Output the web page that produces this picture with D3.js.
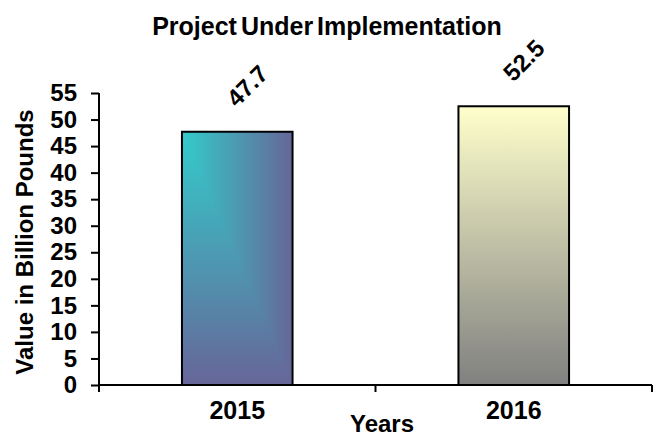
<!DOCTYPE html>
<html lang="en">
<head>
    <meta charset="utf-8">
    <script src="https://cdn.jsdelivr.net/npm/d3@7"></script>
    <style>
        body { margin: 0; background: #fff; }
        text { font-family: "Liberation Sans", Arial, sans-serif; fill: #000; }
    </style>
</head>
<body>
    <svg width="660" height="438"></svg>
    <script>
        // chart values
        var years = ["2015", "2016"];
        var values = [47.7, 52.5];
        var yTicks = [0, 5, 10, 15, 20, 25, 30, 35, 40, 45, 50, 55];

        var svg = d3.select("svg");

        var plotLeft = 99, plotRight = 652, plotTop = 93, plotBottom = 385;

        var x = d3.scaleBand().domain(years).range([plotLeft, plotRight]).paddingInner(0).paddingOuter(0);
        var y = d3.scaleLinear().domain([0, 55]).range([plotBottom, plotTop]);

        var defs = svg.append("defs");

        // 2015: rectangular gradient from the top-left corner (cyan -> purple)
        var pat = defs.append("pattern")
            .attr("id", "fill2015")
            .attr("patternContentUnits", "objectBoundingBox")
            .attr("width", 1).attr("height", 1);
        var mix = d3.interpolateRgb("#33cccc", "#666699");
        var steps = d3.range(80, 0, -1);
        pat.selectAll("rect")
            .data(steps)
            .enter().append("rect")
            .attr("x", 0).attr("y", 0)
            .attr("width", function(k) { return k / 80; })
            .attr("height", function(k) { return k / 80; })
            .attr("fill", function(k) { return mix(k / 80); });

        // 2016: vertical gradient (pale yellow -> grey)
        var lg = defs.append("linearGradient")
            .attr("id", "fill2016")
            .attr("x1", 0).attr("y1", 0).attr("x2", 0).attr("y2", 1);
        lg.append("stop").attr("offset", "0%").attr("stop-color", "#ffffcc");
        lg.append("stop").attr("offset", "100%").attr("stop-color", "#808080");

        var fills = ["url(#fill2015)", "url(#fill2016)"];

        // title
        svg.append("text")
            .attr("x", 327)
            .attr("y", 35)
            .attr("text-anchor", "middle")
            .attr("font-size", "25px")
            .attr("font-weight", "bold")
            .attr("word-spacing", "-3px")
            .text("Project Under Implementation");

        // bars
        var barW = x.bandwidth() * 0.4;
        svg.append("g")
            .selectAll("rect")
            .data(values)
            .enter().append("rect")
            .attr("x", function(d, i) { return x(years[i]) + (x.bandwidth() - barW) / 2; })
            .attr("y", function(d) { return y(d); })
            .attr("width", barW)
            .attr("height", function(d) { return y(0) - y(d); })
            .attr("fill", function(d, i) { return fills[i]; })
            .attr("stroke", "#000")
            .attr("stroke-width", 2);

        // value labels, rotated
        svg.append("g")
            .selectAll("text")
            .data(values)
            .enter().append("text")
            .attr("transform", function(d, i) {
                var cx = x(years[i]) + x.bandwidth() / 2 + 10;
                var cy = y(d) - 46;
                return "translate(" + cx + "," + cy + ") rotate(-45)";
            })
            .attr("text-anchor", "middle")
            .attr("dominant-baseline", "central")
            .attr("font-size", "24px")
            .attr("font-weight", "bold")
            .text(function(d) { return d.toFixed(1); });

        // y axis
        var yAxis = svg.append("g")
            .attr("transform", "translate(" + plotLeft + ",0)")
            .call(d3.axisLeft(y).tickValues(yTicks).tickSize(8).tickPadding(14));
        yAxis.select(".domain").attr("stroke-width", 2).attr("d", "M0," + y(55) + "V" + y(0));
        yAxis.selectAll(".tick line").attr("stroke-width", 2);
        yAxis.selectAll(".tick text")
            .attr("font-size", "24px")
            .attr("font-weight", "bold")
            .attr("font-family", "'Liberation Sans', Arial, sans-serif");

        // x axis: labels centred in bands, ticks on band edges
        var xAxis = svg.append("g")
            .attr("transform", "translate(0," + plotBottom + ")")
            .call(d3.axisBottom(x).tickSize(0).tickPadding(16));
        xAxis.select(".domain").attr("stroke-width", 2).attr("d", "M" + plotLeft + ",0H" + plotRight);
        xAxis.selectAll(".tick text")
            .attr("font-size", "25px")
            .attr("font-weight", "bold")
            .attr("font-family", "'Liberation Sans', Arial, sans-serif");
        var edges = [x(years[0])].concat(years.map(function(d) { return x(d) + x.bandwidth(); }));
        xAxis.selectAll(".edge")
            .data(edges)
            .enter().append("line")
            .attr("class", "edge")
            .attr("x1", function(d) { return d; })
            .attr("x2", function(d) { return d; })
            .attr("y1", 0).attr("y2", 7)
            .attr("stroke", "#000")
            .attr("stroke-width", 2);

        // axis titles
        svg.append("text")
            .attr("x", 382)
            .attr("y", 432)
            .attr("text-anchor", "middle")
            .attr("font-size", "24px")
            .attr("font-weight", "bold")
            .text("Years");

        svg.append("text")
            .attr("transform", "translate(33,242) rotate(-90)")
            .attr("text-anchor", "middle")
            .attr("font-size", "24px")
            .attr("font-weight", "bold")
            .text("Value in Billion Pounds");
    </script>
</body>
</html>
